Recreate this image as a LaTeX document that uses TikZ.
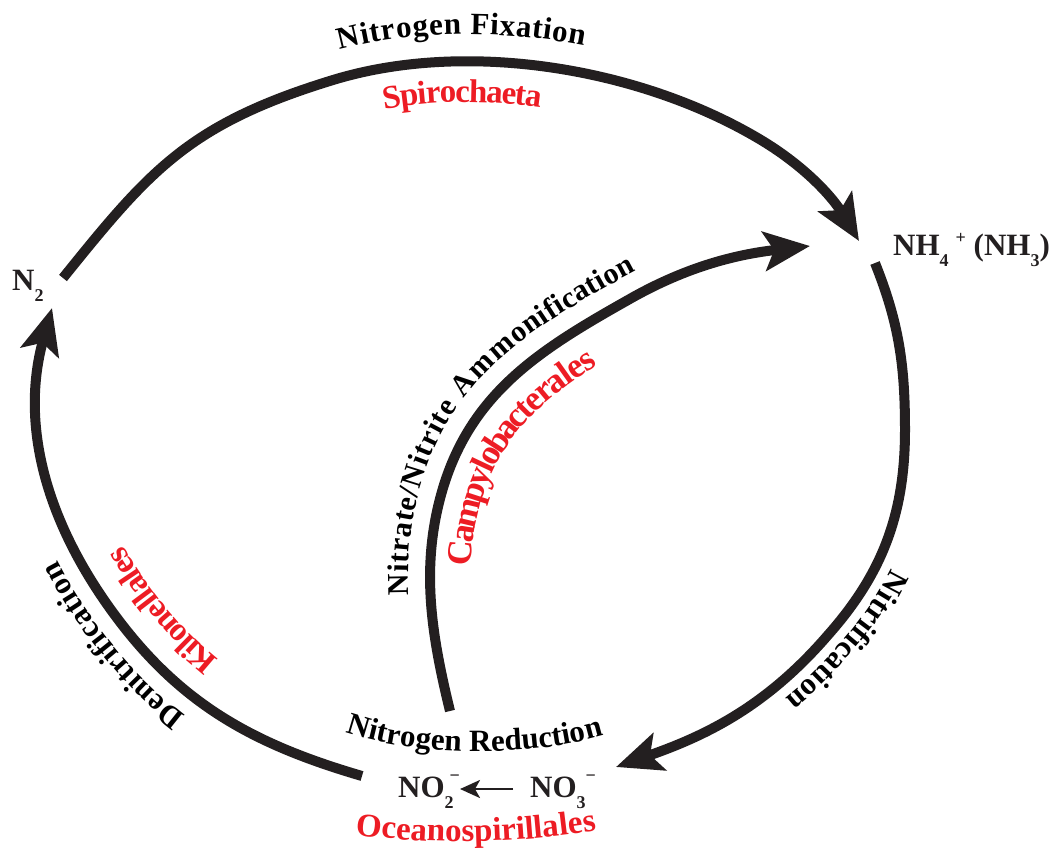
\documentclass[tikz,border=0pt]{standalone}
\usepackage{fontspec}
\setmainfont{Liberation Serif}
\usetikzlibrary{arrows.meta,decorations.text}
\definecolor{ink}{RGB}{35,31,32}
\definecolor{bred}{RGB}{237,28,36}
\newcommand\blk{\bfseries\fontsize{31}{31}\selectfont}
\newcommand\blkb{\bfseries\fontsize{30}{30}\selectfont}
\newcommand\rdf{\bfseries\fontsize{33}{33}\selectfont}
\newcommand\rdfb{\bfseries\fontsize{35}{35}\selectfont}
\newcommand\ssz{\fontsize{18}{18}\selectfont}
\newcommand\sbs[1]{\raisebox{-0.36em}{\ssz #1}}
\newcommand\sps[1]{\raisebox{0.37em}{\ssz #1}}
\newcommand\mns{\raisebox{0.5em}{\ssz −}}
\tikzset{
  arc/.style={draw=ink, line width=10pt, -{Stealth[length=46pt, width=39pt, inset=10pt]}},
  smallarr/.style={draw=ink, line width=2.5pt, -{Stealth[length=20pt, width=18pt, inset=5pt]}},
  chem/.style={inner sep=0pt, anchor=base west, text=ink, font=\blk},
}
\begin{document}
\begin{tikzpicture}[x=1pt, y=-1pt]
\useasboundingbox (0,0) rectangle (1058,855);

% nodes
\node[chem] (N2) at (12,290) {N\sbs{2}};
\node[chem] (NH4) at (893,255) {NH\sbs{4}\hspace{7pt}\sps{+} (NH\sbs{3})};
\node[chem] (NO2) at (398,797) {NO\rlap{\hspace{5pt}\mns}\sbs{2}};
\node[chem] (NO3) at (530,797) {NO\rlap{\hspace{9pt}\mns}\sbs{3}};

% arc end points
\coordinate (a0) at (63,278);
\coordinate (a1) at (859,241);
\coordinate (b0) at (875,263);
\coordinate (b1) at (616,767);
\coordinate (c0) at (362,776);
\coordinate (c1) at (52,308);
\coordinate (d0) at (450,711);
\coordinate (d1) at (810,246);

% arcs
\draw[arc] (a0) .. controls (150,170) and (189,124) .. (333,80) .. controls (467,39) and (641,68) .. (761,140) .. controls (806,167) and (833,198) .. (a1);
\draw[arc] (b0) .. controls (899,323) and (905,365) .. (905,430) .. controls (905,513) and (883,573) .. (828,635) .. controls (766,707) and (705,736) .. (b1);
\draw[arc] (c0) .. controls (256,745) and (183,706) .. (117,618) .. controls (45,522) and (20,424) .. (c1);
\draw[arc] (d0) .. controls (431,633) and (420,565) .. (443,488) .. controls (472,392) and (541,349) .. (628,300) .. controls (689,265) and (740,254) .. (d1);

\draw[smallarr] ([xshift=-17pt, yshift=8pt]NO3.base west) -- ([xshift=62pt, yshift=8pt]NO2.base west);

% labels along the top arc
\path[decorate, decoration={text along path, text={|\blk|Nitrogen Fixation}, raise=27pt, text align={left indent=356pt}}]
  (a0) .. controls (150,170) and (189,124) .. (333,80) .. controls (467,39) and (641,68) .. (761,140) .. controls (806,167) and (833,198) .. (a1);
\path[decorate, decoration={text along path, text={|\rdf|Spirochaeta}, text color=bred, raise=-41pt, text align={left indent=389pt}}]
  (a0) .. controls (150,170) and (189,124) .. (333,80) .. controls (467,39) and (641,68) .. (761,140) .. controls (806,167) and (833,198) .. (a1);

% right arc
\path[decorate, decoration={text along path, text={|\blk|Nitrification}, raise=15pt, text align={left indent=306pt}}]
  (b0) .. controls (899,323) and (905,365) .. (905,430) .. controls (905,513) and (883,573) .. (828,635) .. controls (766,707) and (705,736) .. (b1);

% left arc
\path[decorate, decoration={text along path, text={|\blk|Denitrification}, raise=20pt, text align={left indent=182pt}}]
  (c0) .. controls (256,745) and (183,706) .. (117,618) .. controls (45,522) and (20,424) .. (c1);
\path[decorate, decoration={text along path, text={|\rdf|Kilonellales}, text color=bred, raise=-45pt, text align={left indent=192pt}}]
  (c0) .. controls (256,745) and (183,706) .. (117,618) .. controls (45,522) and (20,424) .. (c1);

% inner arc
\path[decorate, decoration={text along path, text={|\blkb|Nitrate/Nitrite Ammonification}, raise=22pt, text align={left indent=118pt}}]
  (d0) .. controls (431,633) and (420,565) .. (443,488) .. controls (472,392) and (541,349) .. (628,300) .. controls (689,265) and (740,254) .. (d1);
\path[decorate, decoration={text along path, text={|\rdfb|Campylobacterales}, text color=bred, raise=-41pt, text align={left indent=150pt}}]
  (d0) .. controls (431,633) and (420,565) .. (443,488) .. controls (472,392) and (541,349) .. (628,300) .. controls (689,265) and (740,254) .. (d1);

% bottom labels
\coordinate (r0) at (330,726);
\coordinate (r1) at (620,730);
\path[decorate, decoration={text along path, text={|\blk|Nitrogen Reduction}, text align=center}]
  (r0) .. controls (400,758) and (540,760) .. (r1);
\coordinate (o0) at (340,833);
\coordinate (o1) at (612,828);
\path[decorate, decoration={text along path, text={|\rdf|Oceanospirillales}, text color=bred, text align=center}]
  (o0) .. controls (420,845) and (520,845) .. (o1);
\end{tikzpicture}
\end{document}
